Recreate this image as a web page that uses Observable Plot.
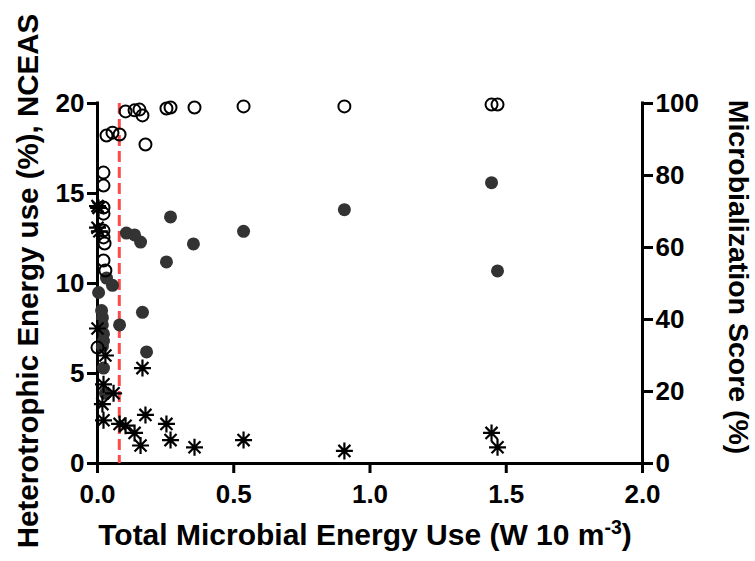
<!DOCTYPE html>
<html><head><meta charset="utf-8">
<script src="https://cdn.jsdelivr.net/npm/d3@7"></script>
<script src="https://cdn.jsdelivr.net/npm/@observablehq/plot@0.6"></script>
<style>html,body{margin:0;padding:0;background:#fff;}</style>
</head><body><div id="chart"></div>
<script>
// Axis ticks
const xTicks = [0, 0.5, 1.0, 1.5, 2.0];
const leftTicks = [0, 5, 10, 15, 20];
const rightTicks = [0, 20, 40, 60, 80, 100];
const thresholdX = [0.08];

// Microbialization score (%) – right axis, open circles
const scoreX = [0.103, 0.136, 0.154, 0.165, 0.253, 0.268, 0.356, 0.536, 0.906, 1.446, 1.468, 0.176, 0.033, 0.055, 0.081, 0.022, 0.022, 0.022, 0.022, 0.022, 0.022, 0.026, 0.022, 0.029, 0.0];
const scoreY = [97.8, 98.1, 98.3, 96.7, 98.6, 98.9, 98.9, 99.2, 99.2, 99.7, 99.7, 88.6, 91.1, 91.9, 91.4, 80.8, 77.2, 71.1, 69.4, 64.7, 62.8, 61.1, 56.4, 53.6, 32.2];

// Heterotrophic energy use (%) – left axis, filled circles
const heteroX = [1.446, 1.468, 0.536, 0.906, 0.268, 0.106, 0.136, 0.158, 0.352, 0.253, 0.033, 0.055, 0.004, 0.165, 0.081, 0.180, 0.015, 0.018, 0.018, 0.022, 0.022, 0.018, 0.022, 0.029];
const heteroY = [15.6, 10.7, 12.9, 14.1, 13.7, 12.8, 12.7, 12.3, 12.2, 11.2, 10.3, 9.9, 9.5, 8.4, 7.7, 6.2, 8.5, 8.1, 7.7, 7.2, 6.8, 6.5, 5.3, 3.9];

// NCEAS – left axis, asterisks
const nceasX = [1.446, 1.468, 0.536, 0.906, 0.165, 0.176, 0.253, 0.268, 0.356, 0.081, 0.103, 0.136, 0.158, 0.059, 0.022, 0.029, 0.0, 0.018, 0.022, 0.0, 0.004, 0.0, 0.007];
const nceasY = [1.7, 0.9, 1.3, 0.7, 5.3, 2.7, 2.2, 1.3, 0.9, 2.2, 2.1, 1.7, 1.0, 3.9, 4.4, 6.0, 7.5, 3.3, 2.4, 14.3, 14.2, 13.1, 12.9];

const scoreData = scoreX.map((x, i) => ({x, y: scoreY[i]}));
const heteroData = heteroX.map((x, i) => ({x, y: heteroY[i]}));
const nceasData = nceasX.map((x, i) => ({x, y: nceasY[i]}));

const ratio = 5; // right axis (0-100) onto left scale (0-20)

const asterisk = {
  draw(context, size) {
    const r = Math.sqrt(size / Math.PI);
    const d = r * Math.SQRT1_2;
    context.moveTo(-r, 0); context.lineTo(r, 0);
    context.moveTo(0, -r); context.lineTo(0, r);
    context.moveTo(-d, -d); context.lineTo(d, d);
    context.moveTo(-d, d); context.lineTo(d, -d);
  }
};

const font = "'Liberation Sans', Arial, Helvetica, sans-serif";
const tickFont = 26;

const svg = Plot.plot({
  width: 755,
  height: 561,
  marginLeft: 97,
  marginRight: 113,
  marginTop: 103,
  marginBottom: 98,
  style: {fontFamily: font, fontWeight: "bold", background: "#fff", color: "#000", overflow: "visible"},
  x: {domain: [0, 2], axis: null},
  y: {domain: [0, 20], axis: null},
  marks: [
    Plot.axisX(xTicks, {tickSize: 10, tickPadding: 11, fontSize: tickFont, fontWeight: "bold", strokeWidth: 3, tickFormat: d3.format(".1f"), label: null}),
    Plot.axisY(leftTicks, {anchor: "left", tickSize: 10, tickPadding: 3, fontSize: tickFont, fontWeight: "bold", strokeWidth: 3, label: null}),
    Plot.axisY(rightTicks.map(v => v / ratio), {anchor: "right", tickSize: 10, tickPadding: 3, fontSize: tickFont, fontWeight: "bold", strokeWidth: 3, tickFormat: d => d3.format("d")(d * ratio), label: null}),
    Plot.ruleX([0, 2], {stroke: "#000", strokeWidth: 3, strokeLinecap: "square"}),
    Plot.ruleY([0], {stroke: "#000", strokeWidth: 3, strokeLinecap: "square"}),
    Plot.ruleX(thresholdX, {stroke: "#ff4a4a", strokeWidth: 3, strokeDasharray: "11,5"}),
    Plot.dot(heteroData, {x: "x", y: "y", r: 6.5, fill: "#333", stroke: "none"}),
    Plot.dot(scoreData, {x: "x", y: d => d.y / ratio, r: 6, fill: "none", stroke: "#000", strokeWidth: 2}),
    Plot.dot(nceasData, {x: "x", y: "y", r: 8.5, symbol: asterisk, fill: "none", stroke: "#000", strokeWidth: 2.2})
  ]
});

const s = d3.select(svg);
s.append("text")
  .attr("transform", "translate(38,281) rotate(-90)")
  .attr("text-anchor", "middle")
  .attr("font-size", 29.5).attr("font-weight", "bold").attr("font-family", font)
  .attr("fill", "#000")
  .text("Heterotrophic Energy use (%), NCEAS");
s.append("text")
  .attr("transform", "translate(729,277) rotate(90)")
  .attr("text-anchor", "middle")
  .attr("font-size", 28.5).attr("font-weight", "bold").attr("font-family", font)
  .attr("fill", "#000")
  .text("Microbialization Score (%)");
const bt = s.append("text")
  .attr("x", 365).attr("y", 545)
  .attr("text-anchor", "middle")
  .attr("font-size", 30).attr("font-weight", "bold").attr("font-family", font)
  .attr("fill", "#000");
bt.append("tspan").text("Total Microbial Energy Use (W 10 m");
bt.append("tspan").attr("dy", "-0.55em").attr("font-size", "0.65em").text("-3");
bt.append("tspan").attr("dy", "0.36em").text(")");

document.getElementById("chart").appendChild(svg);
</script>
</body></html>
